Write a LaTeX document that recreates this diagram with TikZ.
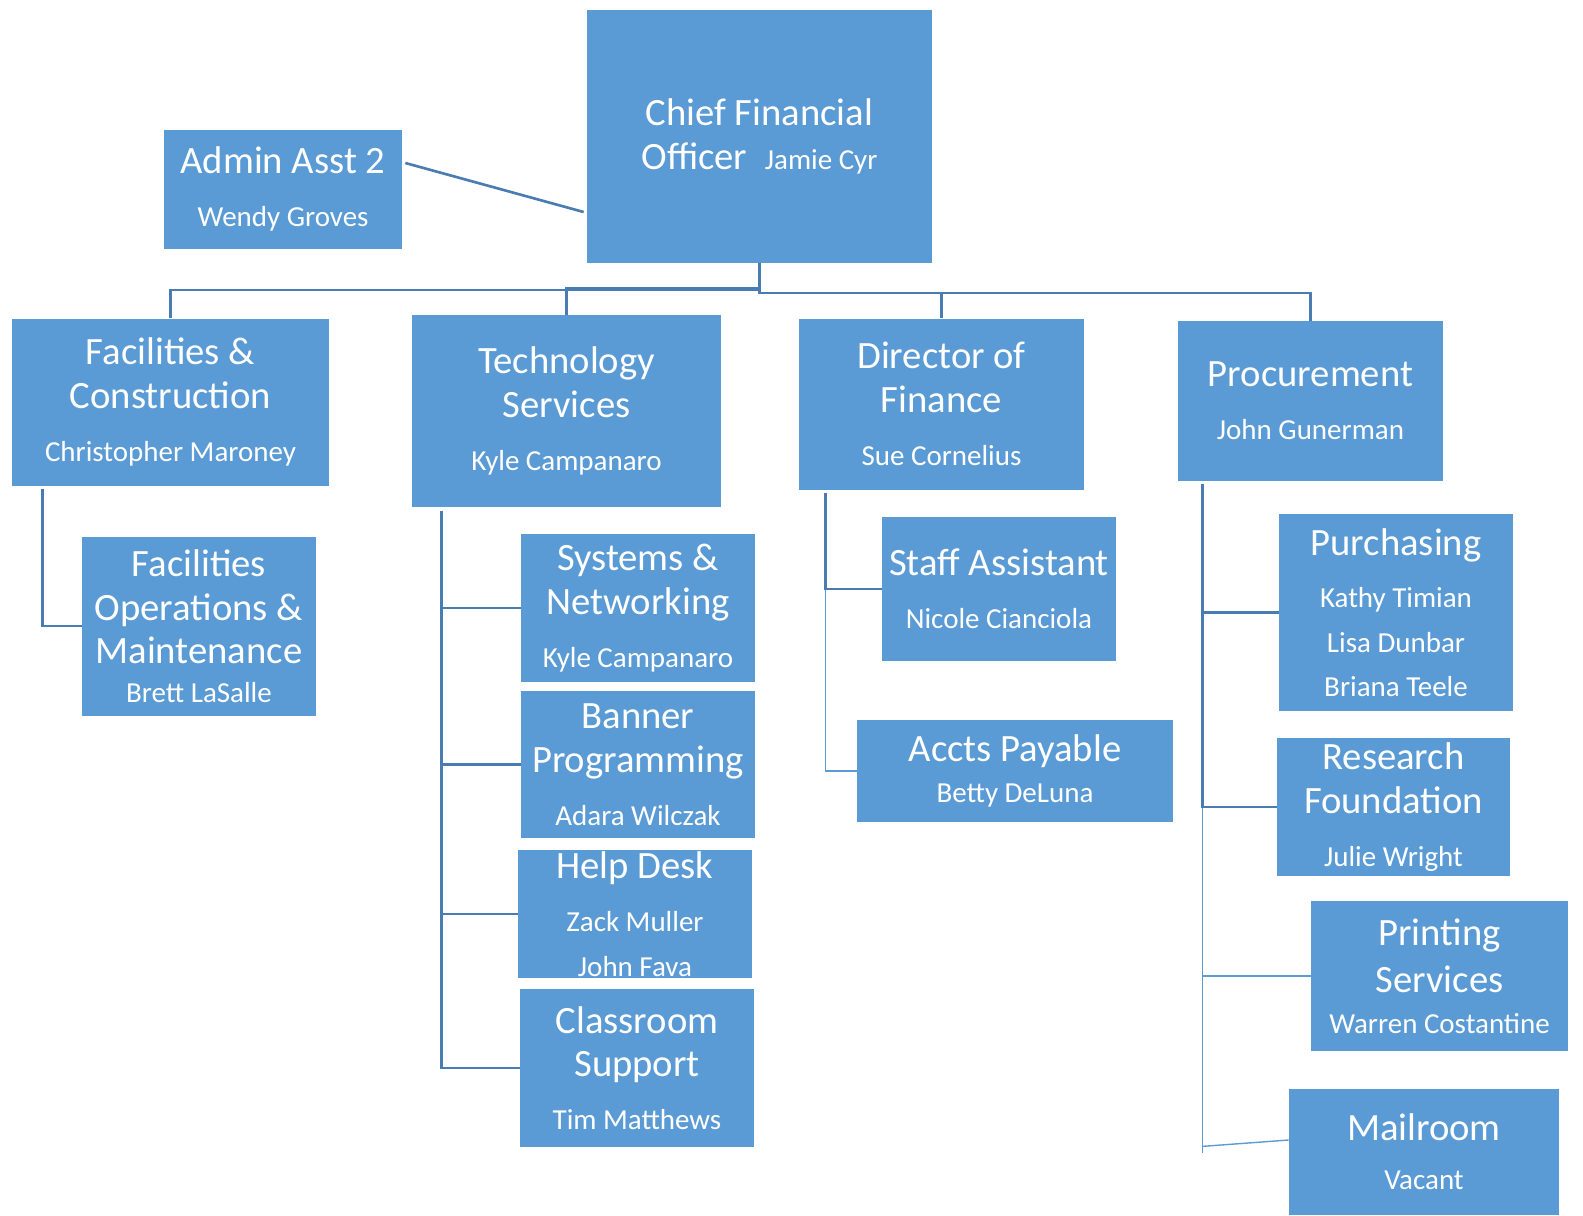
\documentclass[tikz,border=0pt]{standalone}
\usepackage{fontspec}
\setmainfont{Carlito}
\usepackage{xcolor}
\usepackage{tikz}
\usetikzlibrary{calc}
\usetikzlibrary{positioning}

\definecolor{boxblue}{RGB}{91,155,213}
\definecolor{linedark}{RGB}{72,124,178}
\newcommand{\namefont}{\fontsize{16.5}{25}\selectfont}

\begin{document}
\begin{tikzpicture}[x=0.02cm,y=-0.02cm,
  unit/.style={draw=none, fill=boxblue, text=white, align=center, inner sep=0pt,
    font=\fontsize{22}{25}\selectfont},
  link/.style={draw=linedark, line width=1.5pt},
  thinlink/.style={draw=boxblue, line width=0.8pt}]
\useasboundingbox (0,0) rectangle (1583,1215);

% top
\node[unit, minimum width=345*0.02cm, minimum height=253*0.02cm] (cfo) at (759.5,136)
  {Chief Financial\\ Officer\ \ {\namefont Jamie Cyr}};
\node[unit, minimum width=238*0.02cm, minimum height=119*0.02cm] (admin) at (283,189)
  {Admin Asst 2\\[5pt] \namefont Wendy Groves};

% second level
\node[unit, minimum width=317*0.02cm, minimum height=167*0.02cm] (fac) at (170.5,402)
  {Facilities \&\\ Construction\\[5pt] \namefont Christopher Maroney};
\node[unit, minimum width=309*0.02cm, minimum height=192*0.02cm] (tech) at (566.5,411)
  {Technology\\ Services\\[5pt] \namefont Kyle Campanaro};
\node[unit, minimum width=285*0.02cm, minimum height=171*0.02cm] (dir) at (941.5,404)
  {Director of\\ Finance\\[5pt] \namefont Sue Cornelius};
\node[unit, minimum width=265*0.02cm, minimum height=160*0.02cm] (proc) at (1310.5,401)
  {Procurement\\[5pt] \namefont John Gunerman};

% facilities
\node[unit, minimum width=234*0.02cm, minimum height=179*0.02cm] (fom) at (199,626)
  {Facilities\\ Operations \&\\ Maintenance\\[-3pt] \namefont Brett LaSalle};

% technology
\node[unit, minimum width=234*0.02cm, minimum height=148*0.02cm] (sys) at (638,608)
  {Systems \&\\ Networking\\[5pt] \namefont Kyle Campanaro};
\node[unit, minimum width=234*0.02cm, minimum height=147*0.02cm] (banner) at (638,764.5)
  {Banner\\ Programming\\[5pt] \namefont Adara Wilczak};
\node[unit, minimum width=234*0.02cm, minimum height=128*0.02cm] (help) at (635,914)
  {Help Desk\\[5pt] \namefont Zack Muller\\[0.5pt] \namefont John Fava};
\node[unit, minimum width=234*0.02cm, minimum height=158*0.02cm] (class) at (637,1068)
  {Classroom\\ Support\\[5pt] \namefont Tim Matthews};

% finance
\node[unit, minimum width=234*0.02cm, minimum height=144*0.02cm] (staff) at (999,589)
  {Staff Assistant\\[5pt] \namefont Nicole Cianciola};
\node[unit, minimum width=316*0.02cm, minimum height=102*0.02cm] (accts) at (1015,771)
  {Accts Payable\\[-2pt] \namefont Betty DeLuna};

% procurement
\node[unit, minimum width=234*0.02cm, minimum height=197*0.02cm] (purch) at (1396,612.5)
  {Purchasing\\[5pt] \namefont Kathy Timian\\[0.5pt] \namefont Lisa Dunbar\\[0pt] \namefont Briana Teele};
\node[unit, minimum width=233*0.02cm, minimum height=138*0.02cm] (research) at (1393.5,807)
  {Research\\ Foundation\\[5pt] \namefont Julie Wright};
\node[unit, minimum width=257*0.02cm, minimum height=150*0.02cm] (print) at (1439.5,976)
  {Printing\\[2pt] Services\\[-2pt] \namefont Warren Costantine};
\node[unit, minimum width=270*0.02cm, minimum height=126*0.02cm] (mail) at (1424,1152)
  {Mailroom\\[3pt] \namefont Vacant};

% connectors
\draw[link] ([shift={(3,-26)}]admin.east) -- ([shift={(-3,76)}]cfo.west);
\draw[link] (cfo.south) -- ++(0,27) -| (fac.north);
\draw[link] (cfo.south) -- ++(0,25) -| (tech.north);
\draw[link] (cfo.south) -- ++(0,30) -| (dir.north);
\draw[link] (cfo.south) -- ++(0,30) -| (proc.north);

\draw[link] ([shift={(31,3)}]fac.south west) |- (fom.west);

\draw[link] ([shift={(30,4)}]tech.south west) |- (sys.west);
\draw[link] ([shift={(30,4)}]tech.south west) |- (banner.west);
\draw[link] ([shift={(30,4)}]tech.south west) |- (help.west);
\draw[link] ([shift={(30,4)}]tech.south west) |- (class.west);

\draw[thinlink] ([shift={(27,3)}]dir.south west) |- (accts.west);
\draw[link] ([shift={(27,3)}]dir.south west) |- (staff.west);

\draw[thinlink] ([shift={(25,3)}]proc.south west) -- ++(0,669);
\draw[thinlink] ([shift={(25,3)}]proc.south west) |- (print.west);
\draw[thinlink] ([shift={(25,665)}]proc.south west) -- ([shift={(0,-12)}]mail.west);
\draw[link] ([shift={(25,3)}]proc.south west) |- (purch.west);
\draw[link] ([shift={(25,3)}]proc.south west) |- (research.west);
\end{tikzpicture}
\end{document}
